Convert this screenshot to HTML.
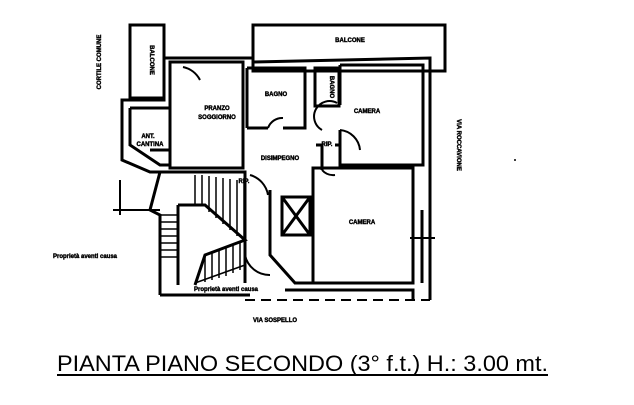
<!DOCTYPE html>
<html><head><meta charset="utf-8"><style>
html,body{margin:0;padding:0;background:#fff;}
svg{display:block}
text{font-family:"Liberation Sans",sans-serif;font-weight:bold;fill:#000}
</style></head><body>
<svg width="634" height="405" viewBox="0 0 634 405" xmlns="http://www.w3.org/2000/svg">
<g fill="none" stroke="#000" stroke-width="3">
<rect x="253" y="25" width="192" height="46"/>
<rect x="130" y="25" width="34" height="73"/>
<path d="M164 58 L253 58 M253 62 L430 58 L430 300"/>
<path d="M164 58 L164 100 L122 100 L122 160 L150 172 L160 172"/>
<rect x="170" y="62" width="73" height="106"/>
<path d="M247 68 L305 68 L305 128 L283 128 M268 128 L247 128 Z"/>
<path d="M247 68 L247 128"/>
<rect x="315" y="68" width="24" height="38"/>
<path d="M340 65 L423 65 L423 165 L340 165 L340 130 M340 105 L340 65"/>
<path d="M335 145 L340 145 M316 145 L322 145 L322 170"/>
<rect x="313" y="168" width="100" height="115"/>
<path d="M130 108 L170 108 M130 108 L130 145 L160 165 L170 165 M150 150 L170 150"/>
<path d="M160 172 L245 172 L245 283 M160 172 L150 210 L160 215 L160 295"/>
<path d="M178 205 L178 285 M178 205 L205 205 L245 240 L205 255 L195 285"/>
<path d="M270 190 L270 255 L295 283 L313 283"/>
<rect x="282" y="197" width="28" height="38"/>
<path d="M282 197 L310 235 M310 197 L282 235"/>
<path d="M160 295 L250 295 M285 290 L413 290 L413 300"/>
<path d="M422 210 L422 283"/>
</g>
<g stroke="#000" stroke-width="1.5">
<path d="M195 175 L195 205 M202 175 L202 205 M209 176 L209 212 M216 177 L216 218 M223 178 L223 224 M230 179 L230 230 M237 180 L237 236 M244 182 L244 240"/>
<path d="M160 215 L178 215 M160 222 L178 222 M160 229 L178 229 M160 236 L178 236 M160 243 L178 243 M160 250 L178 250 M160 257 L178 257"/>
<path d="M205 255 L205 282 M212 253 L212 280 M219 250 L219 278 M226 248 L226 276 M233 245 L233 273 M240 243 L240 270"/>
<path d="M195 283 L245 265"/>
</g>
<g stroke="#000" stroke-width="2" fill="none">
<path d="M183 67 A25 25 0 0 1 200 80"/>
<path d="M268 128 A15 15 0 0 1 283 118"/>
<path d="M322 130 A15 15 0 0 1 337 103"/>
<path d="M340 130 A22 22 0 0 1 360 150"/>
<path d="M322 170 A15 15 0 0 0 335 175"/>
<path d="M250 175 A25 25 0 0 1 268 195"/>
<path d="M245 255 A25 25 0 0 0 270 275"/>
<path d="M120 180 L120 215 M113 210 L160 210"/>
<path d="M410 238 L435 238"/>
</g>
<path d="M245 300 L430 300" stroke="#000" stroke-width="2" stroke-dasharray="10 6"/>
<g font-size="6" stroke="#000" stroke-width="0.4">
<text x="217" y="110" text-anchor="middle">PRANZO</text>
<text x="217" y="119" text-anchor="middle">SOGGIORNO</text>
<text x="276" y="96" text-anchor="middle">BAGNO</text>
<text x="367" y="113" text-anchor="middle">CAMERA</text>
<text x="362" y="224" text-anchor="middle">CAMERA</text>
<text x="350" y="42" text-anchor="middle">BALCONE</text>
<text x="148" y="138" text-anchor="middle">ANT.</text>
<text x="150" y="146" text-anchor="middle">CANTINA</text>
<text x="280" y="160" text-anchor="middle">DISIMPEGNO</text>
<text x="327" y="146" text-anchor="middle">RIP.</text>
<text x="244" y="183" text-anchor="middle">RIP.</text>
<text x="275" y="322" text-anchor="middle">VIA SOSPELLO</text>
<text x="85" y="258" text-anchor="middle">Proprietà aventi causa</text>
<text x="226" y="291" text-anchor="middle">Proprietà aventi causa</text>
<text transform="translate(150,60) rotate(90)" text-anchor="middle">BALCONE</text>
<text transform="translate(330,87) rotate(90)" text-anchor="middle">BAGNO</text>
<text transform="translate(101,62) rotate(-90)" text-anchor="middle">CORTILE COMUNE</text>
<text transform="translate(457,145) rotate(90)" text-anchor="middle">VIA ROCCAVIONE</text>
</g>
<circle cx="515" cy="160" r="1" fill="#000"/>
<text x="57" y="371" font-size="22" textLength="491" lengthAdjust="spacingAndGlyphs" style="font-weight:normal">PIANTA PIANO SECONDO (3° f.t.) H.: 3.00 mt.</text>
<rect x="57" y="374" width="491" height="2" fill="#000"/>
</svg>
</body></html>
